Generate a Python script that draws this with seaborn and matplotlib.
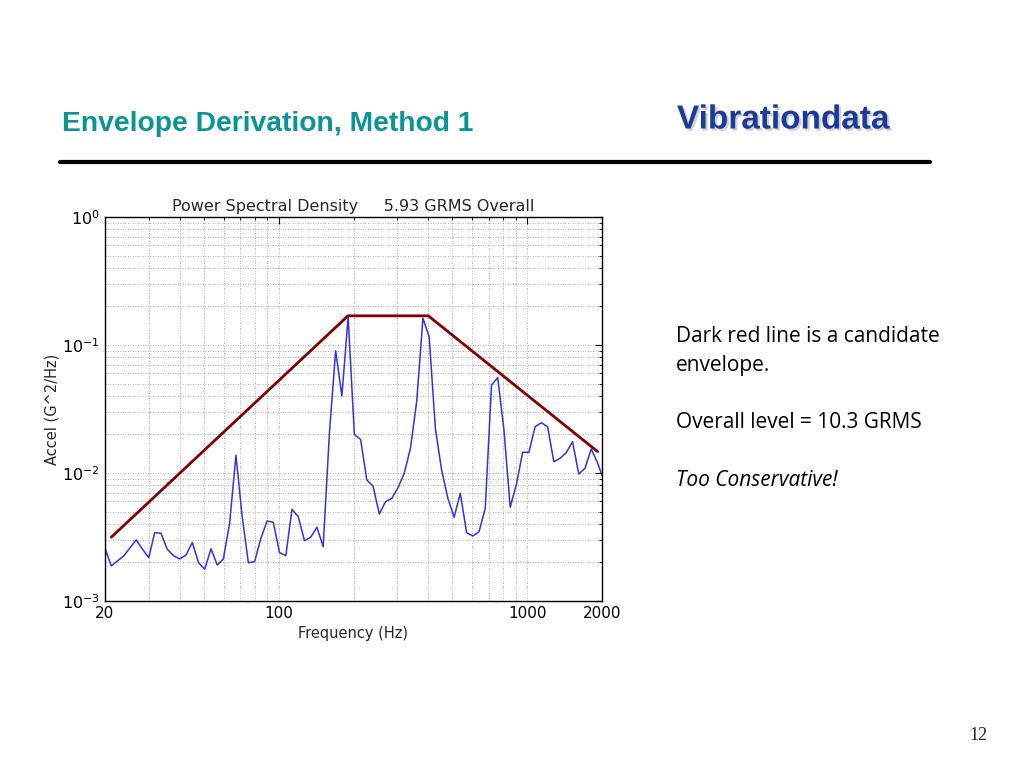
import numpy as np
import pandas as pd
import matplotlib
matplotlib.use("Agg")
import matplotlib.pyplot as plt
import matplotlib.ticker as ticker
import matplotlib.patheffects as pe
from matplotlib import font_manager
import seaborn as sns

# 1/12 octave PSD values
freq = [20.0, 21.2, 22.4, 23.8, 25.2, 26.7, 28.3, 30.0, 31.7, 33.6,
        35.6, 37.8, 40.0, 42.4, 44.9, 47.6, 50.4, 53.4, 56.6, 59.9,
        63.5, 67.3, 71.3, 75.5, 80.0, 84.8, 89.8, 95.1, 100.8, 106.8,
        113.1, 119.9, 127.0, 134.5, 142.5, 151.0, 160.0, 169.5, 179.6, 190.3,
        201.6, 213.6, 226.3, 239.7, 254.0, 269.1, 285.1, 302.1, 320.0, 339.0,
        359.2, 380.6, 403.2, 427.1, 452.5, 479.5, 508.0, 538.2, 570.2, 604.1,
        640.0, 678.1, 718.4, 761.1, 806.3, 854.3, 905.1, 958.9, 1015.9, 1076.3,
        1140.3, 1208.1, 1280.0, 1356.1, 1436.8, 1522.2, 1612.7, 1708.6, 1810.2, 1917.9,
        2031.9]
accel = [0.00258, 0.00188, 0.00205, 0.00225, 0.00260, 0.00300, 0.00254, 0.00218, 0.00342, 0.00338,
         0.00254, 0.00225, 0.00213, 0.00229, 0.00287, 0.00199, 0.00177, 0.00256, 0.00191, 0.00213,
         0.00409, 0.01375, 0.00456, 0.00199, 0.00203, 0.00309, 0.00422, 0.00412, 0.00239, 0.00226,
         0.00520, 0.00456, 0.00296, 0.00315, 0.00377, 0.00266, 0.0204, 0.0903, 0.0400, 0.166,
         0.0200, 0.0183, 0.00881, 0.00791, 0.00478, 0.00597, 0.00634, 0.00767, 0.00994, 0.0156,
         0.0361, 0.162, 0.116, 0.0223, 0.01055, 0.00634, 0.00451, 0.00694, 0.00342, 0.00322,
         0.00348, 0.00530, 0.0487, 0.0556, 0.0217, 0.00540, 0.00816, 0.01452, 0.01452, 0.0230,
         0.0247, 0.0230, 0.01225, 0.01303, 0.01442, 0.01757, 0.00982, 0.01088, 0.0154, 0.01204,
         0.00881]

# candidate envelope
env_freq = [21.2, 190.0, 400.0, 1920.0]
env_accel = [0.00315, 0.169, 0.169, 0.0147]

xtick_vals = [20, 100, 1000, 2000]
xtick_labels = ["20", "100", "1000", "2000"]

psd = pd.DataFrame({"freq": freq, "accel": accel})
env = pd.DataFrame({"freq": env_freq, "accel": env_accel})

sns.set_style("white")
plt.rcParams["font.family"] = ["DejaVu Sans"]
plt.rcParams["mathtext.default"] = "regular"
plt.rcParams["axes.unicode_minus"] = False

# regular-width bold Arial look-alike for the slide heading (avoid the Narrow cut)
bold_file = None
for f in font_manager.fontManager.ttflist:
    if f.name == "Liberation Sans" and f.weight in (700, "bold") and f.style == "normal" \
            and "Narrow" not in f.fname:
        bold_file = f.fname
        break
if bold_file:
    head_font = dict(fontproperties=font_manager.FontProperties(fname=bold_file))
else:
    head_font = dict(family="DejaVu Sans", fontweight="bold")

fig = plt.figure(figsize=(10.24, 7.68), dpi=100)
fig.patch.set_facecolor("white")

ax = fig.add_axes([105 / 1024, 167 / 768, 497 / 1024, 384 / 768])
ax.set_xscale("log")
ax.set_yscale("log")

sns.lineplot(data=psd, x="freq", y="accel", ax=ax, color="#3333dd", linewidth=1.1)
sns.lineplot(data=env, x="freq", y="accel", ax=ax, color="#800000", linewidth=2.0)

ax.set_xlim(20, 2000)
ax.set_ylim(1e-3, 1)
ax.xaxis.set_major_locator(ticker.FixedLocator(xtick_vals))
ax.xaxis.set_major_formatter(ticker.FixedFormatter(xtick_labels))
ax.xaxis.set_minor_locator(ticker.LogLocator(base=10, subs=np.arange(2, 10)))
ax.xaxis.set_minor_formatter(ticker.NullFormatter())
ax.yaxis.set_major_locator(ticker.LogLocator(base=10, numticks=10))
ax.yaxis.set_minor_locator(ticker.LogLocator(base=10, subs=np.arange(2, 10), numticks=10))
ax.yaxis.set_minor_formatter(ticker.NullFormatter())

ax.grid(True, which="both", linestyle=(0, (1, 2)), color="#999999", linewidth=0.6)
ax.tick_params(which="both", direction="in", top=True, right=True, colors="black")
ax.tick_params(axis="x", labelsize=11)
ax.tick_params(axis="y", labelsize=11.5)
ax.tick_params(which="major", length=5)
ax.tick_params(which="minor", length=2.5)
for s in ax.spines.values():
    s.set_color("black")
    s.set_linewidth(1.0)

ax.set_title("Power Spectral Density     5.93 GRMS Overall", fontsize=11.5, pad=4)
ax.set_xlabel("Frequency (Hz)", fontsize=10.5)
ax.set_ylabel("Accel (G^2/Hz)", fontsize=10.5, labelpad=2)

# slide decorations
h1 = fig.text(62 / 1024, 1 - 124 / 768, "Envelope Derivation, Method 1",
              color="#0a9494", va="center", ha="left", **head_font)
h1.set_fontsize(20.3)
h2 = fig.text(677 / 1024, 1 - 120 / 768, "Vibrationdata", color="#1a3a9c",
              va="center", ha="left", **head_font)
h2.set_fontsize(24)
h2.set_path_effects([pe.withSimplePatchShadow(offset=(1.5, -1.5), shadow_rgbFace="#bbbbbb", alpha=0.7)])
fig.add_artist(plt.Line2D([60 / 1024, 930 / 1024], [1 - 162 / 768, 1 - 162 / 768],
                          color="black", linewidth=3))

side = dict(family="Open Sans", fontsize=15, color="black", va="center", ha="left")
fig.text(676 / 1024, 1 - 337 / 768, "Dark red line is a candidate", **side)
fig.text(676 / 1024, 1 - 366 / 768, "envelope.", **side)
fig.text(676 / 1024, 1 - 423 / 768, "Overall level = 10.3 GRMS", **side)
fig.text(676 / 1024, 1 - 481 / 768, "Too Conservative!", style="italic", **side)
fig.text(978 / 1024, 1 - 736 / 768, "12", family="Liberation Serif", fontsize=13,
         color="#222222", va="center", ha="center")

fig.savefig("out.png", dpi=100, facecolor="white")
